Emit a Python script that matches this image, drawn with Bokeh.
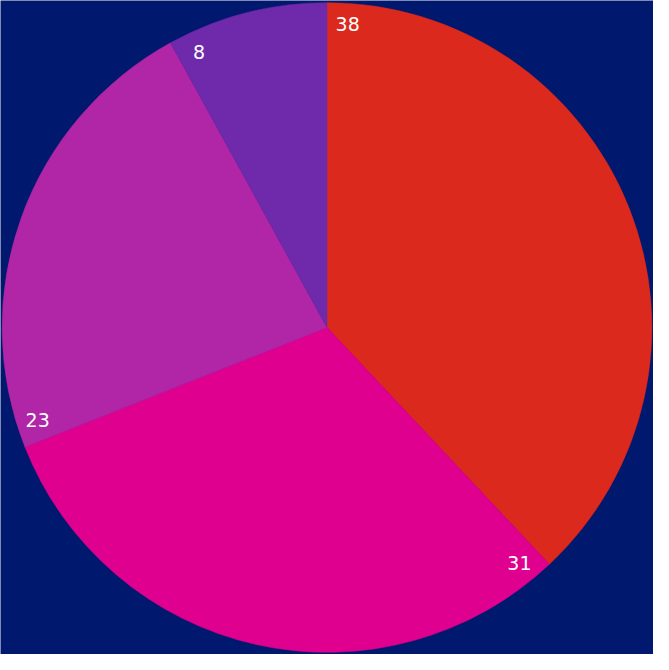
import math
from bokeh.plotting import figure
from bokeh.models import ColumnDataSource
from bokeh.core.properties import value
from bokeh.embed import file_html
from bokeh.resources import INLINE

labels = ["38", "31", "23", "8"]
values = [38, 31, 23, 8]
colors = ["#dc291e", "#e0008f", "#b026a6", "#6e2aaa"]
bg = "#00186e"

W, H = 653, 654
total = sum(values)
starts, ends, lx, ly = [], [], [], []
cum = 0.0
R = 0.995
for v in values:
    a0 = math.pi / 2 - 2 * math.pi * cum / total
    cum += v
    a1 = math.pi / 2 - 2 * math.pi * cum / total
    starts.append(a1)
    ends.append(a0)
    la = a0 - 0.068
    lx.append(0.935 * R * math.cos(la))
    ly.append(0.935 * R * math.sin(la))

src = ColumnDataSource(dict(start=starts, end=ends, color=colors, lx=lx, ly=ly, label=labels))

yr = H / W
p = figure(width=W, height=H, x_range=(-1, 1), y_range=(-yr, yr),
           output_backend="svg", toolbar_location=None, min_border=0)
p.background_fill_color = bg
p.border_fill_color = bg
p.outline_line_color = None
p.axis.visible = False
p.grid.visible = False

p.wedge(x=0, y=0, radius=R, start_angle="start", end_angle="end",
        fill_color="color", line_color="color", line_width=0.5, source=src)
p.text(x="lx", y="ly", text="label", source=src, text_color="white",
       text_font=value("DejaVu Sans"), text_font_size="19px",
       text_align="center", text_baseline="middle")

open("out.html", "w").write(file_html(p, INLINE))
